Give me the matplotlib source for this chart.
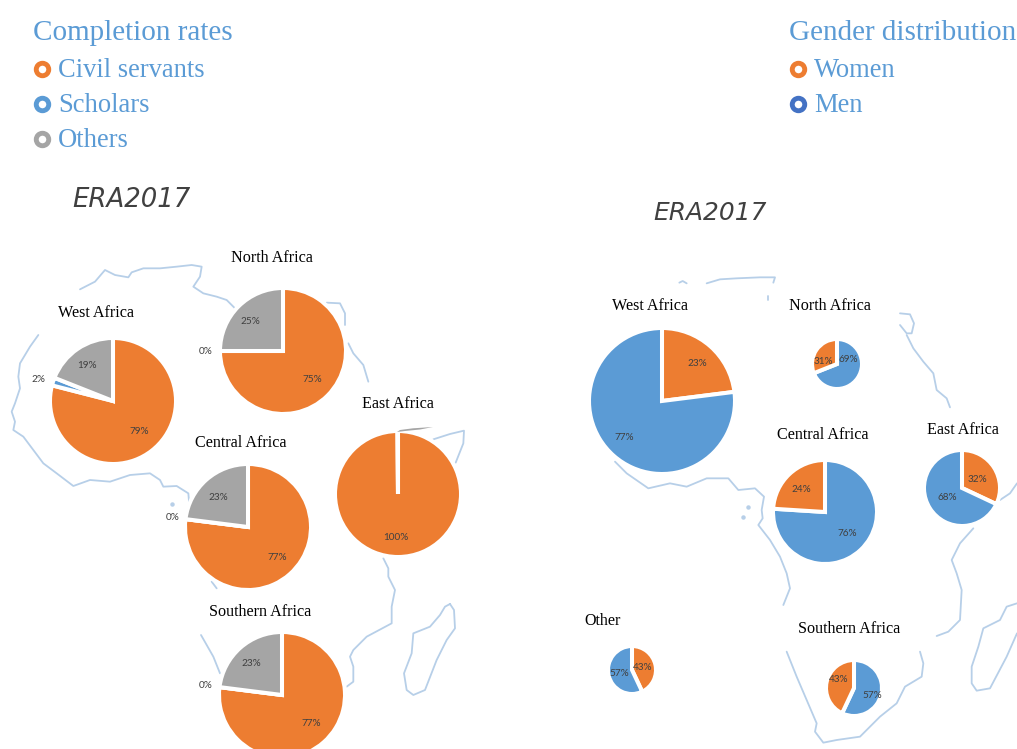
import matplotlib
matplotlib.use("Agg")
import matplotlib.pyplot as plt

W, H = 1017, 749
ORANGE, BLUE, GREY, DARKBLUE = "#ED7D31", "#5B9BD5", "#A5A5A5", "#4472C4"
MAPC = "#B7CFE8"
SERIF = "Liberation Serif"

# ---- data ----
regions_left = ["West Africa", "North Africa", "Central Africa", "East Africa", "Southern Africa"]
civil_servants = [79, 75, 77, 99.9, 77]
scholars = [2, 0, 0, 0, 0]
others = [19, 25, 23, 0.1, 23]

regions_right = ["West Africa", "North Africa", "Central Africa", "East Africa", "Southern Africa", "Other"]
women = [23, 31, 24, 32, 43, 43]
men = [77, 69, 76, 68, 57, 57]
women_first = [True, False, False, True, False, True]

# ---- layout (pixels from top-left) ----
left_geom = [(113, 401, 63), (283, 351, 63), (248, 527, 63), (398, 494, 63), (282, 695, 63)]
left_title = [(96, 317), (272, 262.5), (241, 447), (398, 408), (260, 615.5)]
left_lab = [[(139, 431), (38, 379), (87, 366)],
            [(312, 379), (206, 351), (250, 322)],
            [(277, 557), (173, 518), (218, 497)],
            [(396, 537), None, None],
            [(311, 723), (206, 685), (251, 663)]]
right_geom = [(662, 401, 73), (837, 364, 25), (825, 512, 52), (962, 488, 38), (854, 688, 28), (632, 670, 24)]
right_title = [(650, 310), (830, 310), (823, 439), (963, 434), (849, 633), (603, 625)]
right_lab = [((697, 363), (624, 438)), ((823, 361), (848, 359)), ((801, 489), (847, 533)),
             ((977, 479), (947, 498)), ((839, 679), (872, 696)), ((643, 667), (619, 674))]

# map outline, as zoom-crop coordinates
map_left = [
 [(240,148),(285,125),(315,90),(345,105),(385,112),(395,97),(430,85),(480,85),(530,80),(575,75),(605,80),(600,110),(580,140),(610,160),(650,170),(680,180),(705,205)],
 [(980,188),(1020,190),(1035,220),(1035,255)],
 [(1045,310),(1060,340),(1090,375),(1105,425)],
 [(1300,598),(1350,582),(1392,572),(1390,610),(1367,668)],
 [(115,285),(90,320),(60,370),(55,410),(60,445),(45,490),(35,515),(45,545),(40,570),(70,590),(100,630),(130,670),(170,700),(220,738),(270,720),(330,725),(390,705),(450,700),(480,720),(490,740),(530,738),(565,760),(568,795)],
 [(635,1025),(650,1045)],
 [(1150,955),(1165,985),(1165,1010),(1185,1050),(1175,1100),(1175,1150),(1100,1190),(1060,1230),(1050,1250),(1060,1280),(1060,1325),(1040,1340)],
 [(603,1185),(640,1250),(660,1300)],
 [(1350,1092),(1362,1110),(1365,1165),(1340,1200),(1310,1260),(1275,1350),(1240,1365),(1220,1350),(1212,1300),(1235,1240),(1240,1180),(1290,1160),(1320,1125),(1335,1100),(1350,1092)],
]
map_right = [
 [(358,38),(368,33),(380,40)],
 [(440,40),(480,28),(530,25),(600,22),(645,22),(640,38)],
 [(625,78),(625,90)],
 [(1020,130),(1050,133),(1062,160),(1055,190),(1040,190),(1020,165)],
 [(1040,195),(1060,235),(1090,275),(1120,310),(1130,360),(1160,385),(1170,412)],
 [(165,575),(200,610),(265,655),(330,640),(380,650),(440,625),(505,625),(535,660),(585,655),(612,680),(605,720),(608,745),(595,765),(630,810),(660,860),(680,910),(690,955),(670,1005)],
 [(1320,690),(1350,670),(1371,640)],
 [(1240,775),(1200,820),(1175,870),(1190,910),(1205,960),(1200,1050),(1165,1085),(1130,1098)],
 [(680,1145),(710,1220),(740,1290),(770,1360),(765,1385),(790,1418),(830,1410),(900,1400),(960,1340),(1010,1300),(1035,1250),(1085,1220),(1090,1180),(1080,1145)],
 [(1371,1000),(1340,1010),(1320,1050),(1270,1075),(1255,1130),(1235,1190),(1235,1240),(1250,1262),(1290,1255),(1340,1160),(1371,1090)],
]
east_sliver = [(397, 432), (400, 430), (413, 428.3), (433, 427), (420, 429.5), (405, 431)]

fig = plt.figure(figsize=(W / 100, H / 100), dpi=100, facecolor="white")
ax = fig.add_axes([0, 0, 1, 1])


def Y(py):
    return H - py


def trace(segs, ox, oy):
    for seg in segs:
        ax.plot([ox + p[0] / 3 for p in seg], [Y(oy + p[1] / 3) for p in seg],
                color=MAPC, lw=1.3, zorder=1, solid_capstyle="round", solid_joinstyle="round")


trace(map_left, 0, 240)
trace(map_right, 560, 270)
ax.plot([172], [Y(504)], "o", ms=2.2, color=MAPC, zorder=1)
ax.plot([747.7], [Y(507)], "o", ms=2.2, color=MAPC, zorder=1)
ax.plot([743.3], [Y(517)], "o", ms=2.2, color=MAPC, zorder=1)


def pct(v):
    return f"{round(v)}%"


def pie(vals, cols, geom):
    cx, cy, r = geom
    ax.pie(vals, colors=cols, startangle=90, counterclock=False, center=(cx, Y(cy)), radius=r,
           wedgeprops=dict(edgecolor="white", linewidth=2.9, zorder=2), normalize=True)


def small(txt, pos):
    ax.text(pos[0], Y(pos[1]), txt, ha="center", va="center", family="Lato", fontsize=7.2,
            color="#404040", zorder=5)


def title(txt, pos):
    ax.text(pos[0], Y(pos[1]), txt, ha="center", va="baseline", family=SERIF, fontsize=11.6,
            color="black", zorder=5)


for i, name in enumerate(regions_left):
    vals = [civil_servants[i], scholars[i], others[i]]
    pie(vals, [ORANGE, BLUE, GREY], left_geom[i])
    title(name, left_title[i])
    for v, p in zip(vals, left_lab[i]):
        if p is not None:
            small(pct(v), p)

for i, name in enumerate(regions_right):
    if women_first[i]:
        pie([women[i], men[i]], [ORANGE, BLUE], right_geom[i])
    else:
        pie([men[i], women[i]], [BLUE, ORANGE], right_geom[i])
    title(name, right_title[i])
    small(pct(women[i]), right_lab[i][0])
    small(pct(men[i]), right_lab[i][1])

ax.fill([p[0] for p in east_sliver], [Y(p[1]) for p in east_sliver], color=GREY, lw=0, zorder=3)

# legends
legend_left = ["Civil servants", "Scholars", "Others"]
legend_left_c = [ORANGE, BLUE, GREY]
legend_right = ["Women", "Men"]
legend_right_c = [ORANGE, DARKBLUE]
rows = [69, 104, 139]
baselines = [77, 112.5, 147]


def legend(head, hx, mx, items, cols):
    ax.text(hx, Y(40), head, family=SERIF, fontsize=21, color=BLUE, ha="left", va="baseline", zorder=6)
    for t, c, py, by in zip(items, cols, rows, baselines):
        ax.plot([mx], [Y(py)], "o", ms=9, mew=3.5, mec=c, mfc="white", zorder=6)
        ax.text(mx + 16, Y(by), t, family=SERIF, fontsize=19.1, color=BLUE, ha="left", va="baseline", zorder=6)


legend("Completion rates", 33, 42, legend_left, legend_left_c)
legend("Gender distribution", 789, 798, legend_right, legend_right_c)

ax.text(72, Y(207), "ERA2017", family="DejaVu Sans", style="oblique", fontsize=18.7, color="#404040",
        ha="left", va="baseline", zorder=6)
ax.text(653, Y(220.5), "ERA2017", family="DejaVu Sans", style="oblique", fontsize=17.9, color="#404040",
        ha="left", va="baseline", zorder=6)

ax.set_xlim(0, W)
ax.set_ylim(0, H)
ax.set_aspect("auto")
ax.axis("off")
fig.savefig("out.png", dpi=100, facecolor="white")
